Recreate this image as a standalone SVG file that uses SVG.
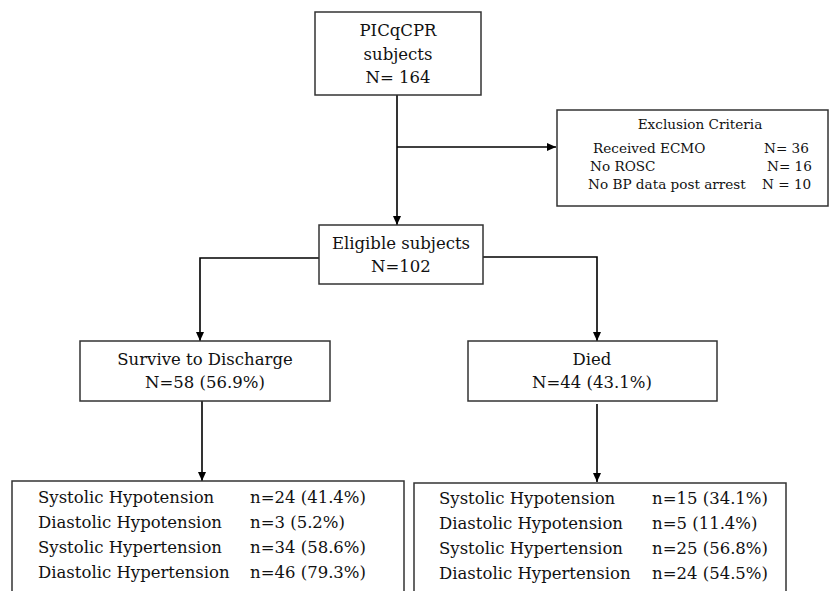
<svg xmlns="http://www.w3.org/2000/svg" width="831" height="591" viewBox="0 0 831 591">
<defs>
<marker id="arr" markerWidth="10" markerHeight="10" refX="9" refY="5" orient="auto" markerUnits="userSpaceOnUse">
<path d="M0,1 L9,5 L0,9 z" fill="#000"/>
</marker>
</defs>
<style>
.box{fill:#fff;stroke:#333;stroke-width:1.5}
.t{font-family:"DejaVu Serif","Liberation Serif",serif;font-size:16.5px;fill:#111}
.s{font-family:"DejaVu Serif","Liberation Serif",serif;font-size:13.6px;fill:#111}
.c{text-anchor:middle}
.ln{fill:none;stroke:#000;stroke-width:1.6}
</style>
<rect width="831" height="591" fill="#fff"/>
<g id="connectors">
<path class="ln" d="M397,95 V225" marker-end="url(#arr)"/>
<path class="ln" d="M397,147 H556" marker-end="url(#arr)"/>
<path class="ln" d="M319,258 H200 V341" marker-end="url(#arr)"/>
<path class="ln" d="M483,257 H597 V341" marker-end="url(#arr)"/>
<path class="ln" d="M202,401 V481" marker-end="url(#arr)"/>
<path class="ln" d="M597,404 V482" marker-end="url(#arr)"/>
</g>
<g id="n-picqcpr">
<rect class="box" x="315" y="12" width="166" height="83"/>
<text class="t c" x="398" y="36" font-size="17.5">PICqCPR</text>
<text class="t c" x="398" y="60">subjects</text>
<text class="t c" x="398" y="83">N= 164</text>
</g>
<g id="n-exclusion">
<rect class="box" x="557" y="110" width="271" height="96"/>
<text class="s c" x="700" y="129">Exclusion Criteria</text>
<text class="s" x="593" y="153">Received ECMO</text>
<text class="s" x="764" y="153">N= 36</text>
<text class="s" x="590" y="171">No ROSC</text>
<text class="s" x="767" y="171">N= 16</text>
<text class="s" x="588" y="189">No BP data post arrest</text>
<text class="s" x="762" y="189">N = 10</text>
</g>
<g id="n-eligible">
<rect class="box" x="319" y="225" width="164" height="59"/>
<text class="t c" x="401" y="249">Eligible subjects</text>
<text class="t c" x="401" y="272">N=102</text>
</g>
<g id="n-survive">
<rect class="box" x="80" y="341" width="250" height="60"/>
<text class="t c" x="205" y="365">Survive to Discharge</text>
<text class="t c" x="205" y="388">N=58 (56.9%)</text>
</g>
<g id="n-died">
<rect class="box" x="468" y="341" width="249" height="60"/>
<text class="t c" x="592" y="365">Died</text>
<text class="t c" x="592" y="388">N=44 (43.1%)</text>
</g>
<g id="n-survive-bp">
<rect class="box" x="12" y="481" width="392" height="120"/>
<text class="t" x="38" y="503">Systolic Hypotension</text>
<text class="t" x="250" y="503">n=24 (41.4%)</text>
<text class="t" x="38" y="528">Diastolic Hypotension</text>
<text class="t" x="250" y="528">n=3 (5.2%)</text>
<text class="t" x="38" y="553">Systolic Hypertension</text>
<text class="t" x="250" y="553">n=34 (58.6%)</text>
<text class="t" x="38" y="578">Diastolic Hypertension</text>
<text class="t" x="250" y="578">n=46 (79.3%)</text>
</g>
<g id="n-died-bp">
<rect class="box" x="414" y="483" width="372" height="120"/>
<text class="t" x="439" y="504">Systolic Hypotension</text>
<text class="t" x="652" y="504">n=15 (34.1%)</text>
<text class="t" x="439" y="529">Diastolic Hypotension</text>
<text class="t" x="652" y="529">n=5 (11.4%)</text>
<text class="t" x="439" y="554">Systolic Hypertension</text>
<text class="t" x="652" y="554">n=25 (56.8%)</text>
<text class="t" x="439" y="579">Diastolic Hypertension</text>
<text class="t" x="652" y="579">n=24 (54.5%)</text>
</g>
</svg>
